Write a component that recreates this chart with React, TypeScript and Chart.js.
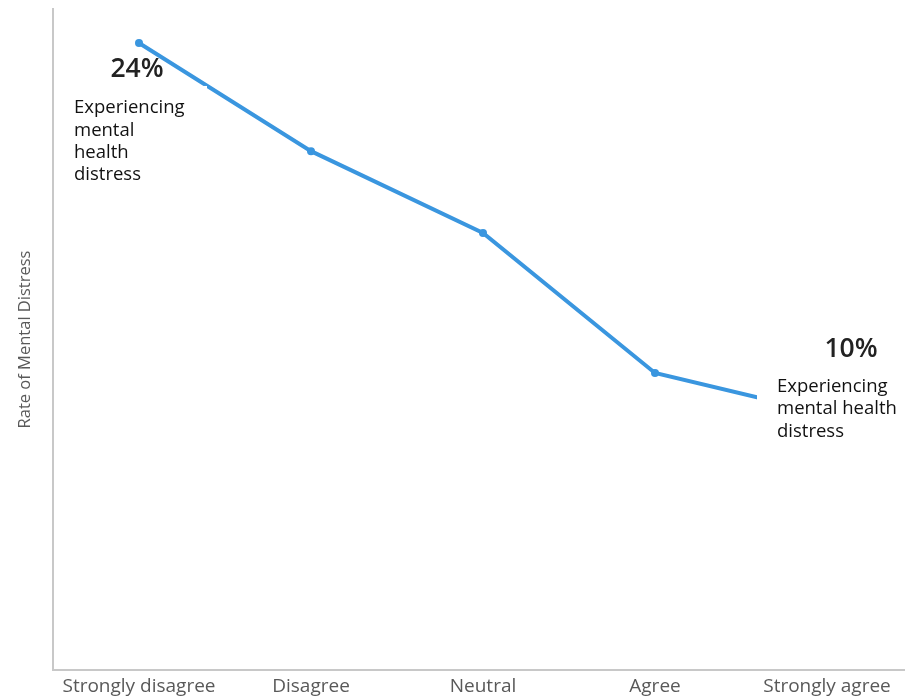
import React, { useEffect, useRef } from "react";
import { Chart, registerables } from "chart.js";

Chart.register(...registerables);

const categories = ["Strongly disagree", "Disagree", "Neutral", "Agree", "Strongly agree"];
const distressRate = [24, 19.86, 16.73, 11.37, 9.8];
const yAxisTitle = "Rate of Mental Distress";
const leftValueLabel = "24%";
const leftNoteLines = ["Experiencing", "mental", "health", "distress"];
const rightValueLabel = "10%";
const rightNoteLines = ["Experiencing", "mental health", "distress"];

const annotationPlugin = {
  id: "notes",
  afterDatasetsDraw(chart: any) {
    const { ctx } = chart;
    const x = chart.scales.x;
    const y = chart.scales.y;
    const x0 = x.getPixelForValue(0);
    const y0 = y.getPixelForValue(distressRate[0]);
    const x4 = x.getPixelForValue(4);
    const y4 = y.getPixelForValue(distressRate[4]);
    ctx.save();
    ctx.fillStyle = "#ffffff";
    ctx.fillRect(x0 - 68, y0 + 43, 136, 104);
    ctx.fillRect(x4 - 70, y4 - 37, 160, 75);

    ctx.textBaseline = "middle";
    ctx.fillStyle = "#222222";
    ctx.font = "600 26.5px 'Open Sans'";
    ctx.textAlign = "center";
    ctx.fillText(leftValueLabel, x0 - 2, y0 + 26);
    ctx.fillText(rightValueLabel, x4 + 24, y4 - 65);

    ctx.font = "18.5px 'Open Sans'";
    ctx.fillStyle = "#111111";
    ctx.textAlign = "left";
    leftNoteLines.forEach((t, i) => ctx.fillText(t, x0 - 65, y0 + 65 + i * 22.4));
    rightNoteLines.forEach((t, i) => ctx.fillText(t, x4 - 50, y4 - 27 + i * 22.2));
    ctx.restore();
  },
};

export default function App() {
  const ref = useRef<HTMLCanvasElement>(null);
  useEffect(() => {
    if (!ref.current) return;
    const chart = new Chart(ref.current, {
      type: "line",
      data: {
        labels: categories,
        datasets: [
          {
            data: distressRate,
            borderColor: "#3a96df",
            backgroundColor: "#3a96df",
            borderWidth: 4,
            pointRadius: 4,
            pointBorderWidth: 0,
            tension: 0,
          },
        ],
      },
      options: {
        animation: false,
        responsive: false,
        layout: { padding: { top: 9, left: 0, right: 0, bottom: 0 } },
        plugins: { legend: { display: false }, tooltip: { enabled: false } },
        scales: {
          x: {
            offset: true,
            grid: { display: false, drawTicks: false },
            border: { color: "#c8c8c8", width: 2 },
            ticks: {
              color: "#595959",
              font: { family: "'Open Sans'", size: 19 },
              padding: 5,
              maxRotation: 0,
              autoSkip: false,
            },
            afterFit: (s: any) => {
              s.height = 28;
            },
          },
          y: {
            min: 0,
            max: 25.3,
            grid: { display: false, drawTicks: false },
            border: { color: "#c8c8c8", width: 2 },
            ticks: { display: false },
            title: {
              display: true,
              text: yAxisTitle,
              color: "#595959",
              font: { family: "'Open Sans'", size: 16.5 },
              padding: { top: 15, bottom: 0 },
            },
            afterFit: (s: any) => {
              s.width = 53;
            },
          },
        },
      },
      plugins: [annotationPlugin],
    });
    return () => chart.destroy();
  }, []);
  return (
    <div style={{ position: "fixed", left: 0, top: 0, width: 905, height: 698, overflow: "hidden", background: "#fff" }}>
      <canvas ref={ref} width={917} height={698} style={{ display: "block" }} />
    </div>
  );
}
